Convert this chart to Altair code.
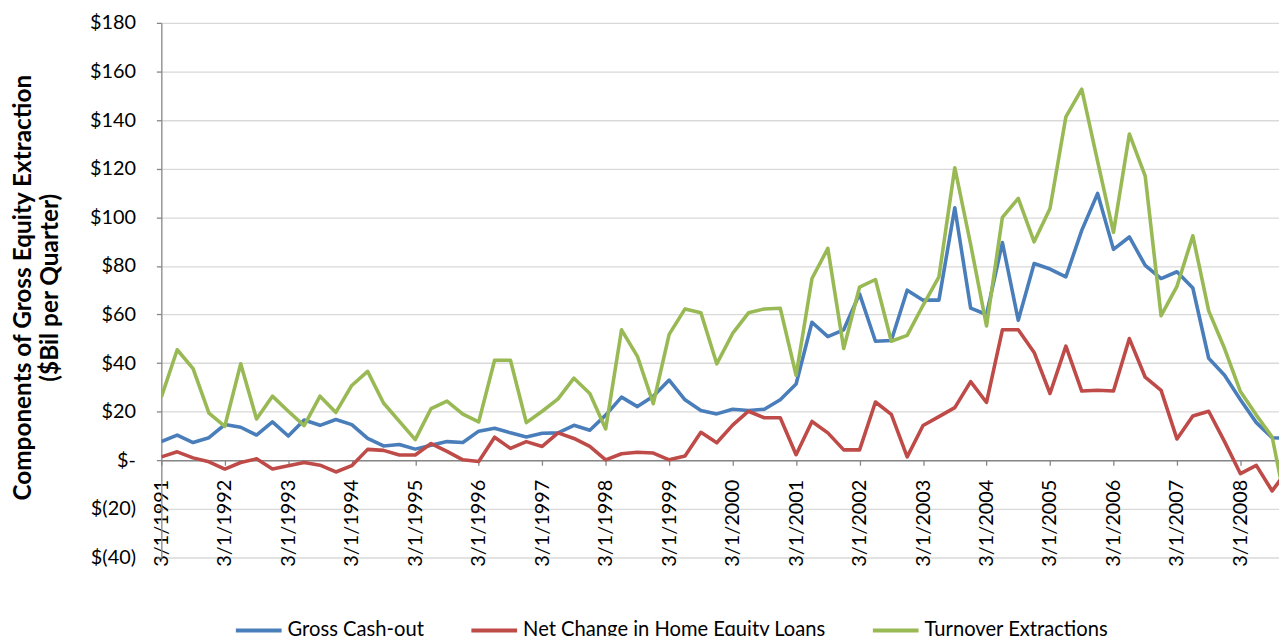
import altair as alt
import pandas as pd

# ---------------- data ----------------
series_names = ["Gross Cash-out", "Net Change in Home Equity Loans", "Turnover Extractions"]
series_colors = ["#4A7EBB", "#BE4B48", "#98B954"]

tick_labels = ["3/1/1991", "3/1/1992", "3/1/1993", "3/1/1994", "3/1/1995", "3/1/1996",
               "3/1/1997", "3/1/1998", "3/1/1999", "3/1/2000", "3/1/2001", "3/1/2002",
               "3/1/2003", "3/1/2004", "3/1/2005", "3/1/2006", "3/1/2007", "3/1/2008"]

# quarter index 0 = 3/1/1991
gross_cash_out = [7.7, 10.4, 7.3, 9.3, 14.7, 13.6, 10.4, 15.8, 10.0, 16.6, 14.4, 16.8,
                  14.7, 9.0, 5.9, 6.5, 4.6, 6.2,
                  7.7, 7.3, 12.0, 13.2, 11.3, 9.6, 11.1, 11.3, 14.4, 12.4, 18.6, 26.0,
                  22.1, 26.4, 33.0, 24.9, 20.5, 19.1,
                  21.0, 20.5, 21.0, 24.9, 31.4, 56.8, 50.9, 53.7, 68.5, 49.0, 49.3, 70.0,
                  65.9, 65.9, 103.9, 62.6, 60.0,
                  89.6, 57.6, 81.0, 78.7, 75.5, 94.6, 109.8, 86.8, 91.9, 80.2, 74.8, 77.6,
                  70.9, 42.0, 35.0, 24.9, 15.5, 9.3,
                  9.0]

net_heloc = [1.4, 3.5, 1.0, -0.6, -3.6, -0.9, 0.6, -3.6, -2.2, -0.9, -2.0, -4.8,
             -2.2, 4.5, 4.1, 2.2, 2.2, 6.9,
             3.7, 0.2, -0.5, 9.5, 4.9, 7.7, 5.7, 11.3, 9.0, 5.7, 0.2, 2.7,
             3.3, 3.0, 0.2, 1.8, 11.5, 7.2,
             14.5, 20.2, 17.5, 17.5, 2.3, 16.0, 11.3, 4.3, 4.3, 24.0, 18.9, 1.4,
             14.3, 18.0, 21.7, 32.4, 23.8,
             53.7, 53.7, 44.4, 27.5, 47.0, 28.5, 28.8, 28.5, 50.1, 34.2, 28.8, 8.8,
             18.2, 20.2, 7.7, -5.5, -2.1, -12.6,
             -3.7]

turnover = [26.0, 45.5, 37.7, 19.4, 14.0, 39.7, 17.0, 26.4, 20.2, 14.3, 26.4, 19.7,
            30.8, 36.6, 23.6, 16.0, 8.5, 21.3,
            24.4, 19.0, 15.8, 41.2, 41.2, 15.5, 20.2, 25.3, 33.8, 27.5, 12.9, 53.7,
            42.8, 23.3, 51.8, 62.3, 60.7, 39.7,
            52.2, 60.7, 62.3, 62.6, 35.0, 74.8, 87.2, 46.0, 71.3, 74.4, 49.0, 51.4,
            63.8, 75.5, 120.4, 88.8, 55.3,
            100.0, 107.8, 89.9, 103.6, 141.3, 152.7, 123.0, 93.8, 134.3, 116.9, 59.5, 71.6,
            92.4, 61.5, 46.0, 28.3, 18.6, 9.6,
            -23.0]

rows = []
for name, vals in zip(series_names, [gross_cash_out, net_heloc, turnover]):
    for i, v in enumerate(vals):
        rows.append({"q": i, "v": v, "s": name})
df = pd.DataFrame(rows)

# ---------------- chart ----------------
FONT = "Lato"
GRAY = "#868686"

label_array = "[" + ",".join("'" + t + "'" for t in tick_labels) + "]"

x_enc = alt.X(
    "q:Q",
    scale=alt.Scale(domain=[0, 70.43], nice=False, zero=False),
    axis=alt.Axis(
        values=list(range(0, 72, 4)),
        labelExpr=label_array + "[round(datum.value / 4)]",
        title=None,
        grid=False,
        orient="bottom",
        offset=-97.9,
        domainColor=GRAY,
        domainWidth=1.5,
        tickColor=GRAY,
        tickSize=5,
        tickWidth=1.3,
        labelAngle=270,
        labelAlign="right",
        labelBaseline="middle",
        labelPadding=14,
        labelFont=FONT,
        labelFontSize=20,
        labelColor="#000000",
        labelOverlap=False,
    ),
)

y_enc = alt.Y(
    "v:Q",
    scale=alt.Scale(domain=[-40, 180], nice=False, zero=False),
    axis=alt.Axis(
        values=list(range(-40, 181, 20)),
        labelExpr="datum.value == 0 ? '$-\u00a0\u00a0' : (datum.value < 0 ? '$(' + abs(datum.value) + ')' : '$' + datum.value + '\u00a0')",
        title=["Components of Gross Equity Extraction", "($Bil per Quarter)"],
        titleFont=FONT,
        titleFontSize=24.5,
        titleFontWeight="bold",
        titleColor="#000000",
        titleAngle=270,
        titleAlign="center",
        titleBaseline="middle",
        titleLineHeight=28,
        titleX=-139,
        titleY=266,
        grid=True,
        gridColor="#D9D9D9",
        gridWidth=1.3,
        domainColor=GRAY,
        domainWidth=1.3,
        tickColor=GRAY,
        tickSize=5,
        tickWidth=1.3,
        labelPadding=21,
        labelFont=FONT,
        labelFontSize=20,
        labelColor="#000000",
        labelOverlap=False,
    ),
)

color_enc = alt.Color(
    "s:N",
    scale=alt.Scale(domain=series_names, range=series_colors),
    legend=alt.Legend(
        title=None,
        orient="none",
        direction="horizontal",
        legendX=73,
        legendY=586,
        symbolType="stroke",
        symbolSize=2116,
        symbolStrokeWidth=4,
        labelFont=FONT,
        labelFontSize=20.3,
        labelColor="#000000",
        labelOffset=4,
        columnPadding=39,
        padding=0,
        labelLimit=0,
    ),
)

base = alt.Chart(df)
layers = [
    base.transform_filter(alt.datum.s == name)
    .mark_line(strokeWidth=3.6, clip=True, strokeJoin="round", strokeCap="butt")
    .encode(x=x_enc, y=y_enc, color=color_enc)
    for name in series_names
]

chart = (
    alt.layer(*layers)
    .properties(
        width=1124.7,
        height=538,
        padding={"left": 154.3, "top": 13, "right": 0, "bottom": 77},
        autosize=alt.AutoSizeParams(type="none"),
        background="white",
    )
    .configure_view(strokeWidth=0)
)

chart.save("out.html", embed_options={"renderer": "svg", "actions": False})
